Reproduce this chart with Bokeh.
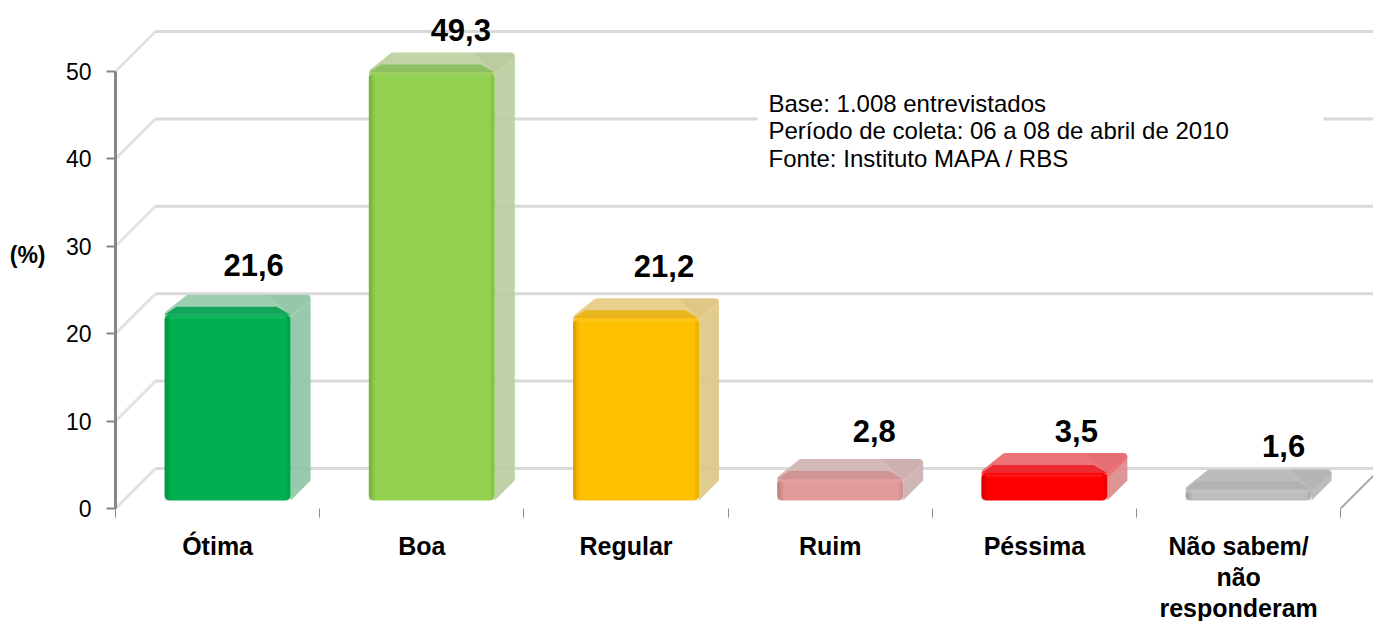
from bokeh.embed import file_html
from bokeh.resources import INLINE
from bokeh.plotting import figure
from bokeh.models import Range1d, FixedTicker, LinearAxis, ColumnDataSource
from bokeh.core.properties import value

categories = ["Ótima", "Boa", "Regular", "Ruim", "Péssima", "Não sabem/"]
category_line2 = {5.5: "não"}
category_line3 = {5.5: "responderam"}
values = [21.6, 49.3, 21.2, 2.8, 3.5, 1.6]
value_labels = ["21,6", "49,3", "21,2", "2,8", "3,5", "1,6"]
colors = ["#00b050", "#92d050", "#ffc000", "#e09a9a", "#ff0000", "#bdbdbd"]
side_colors = ["#8cc3a4", "#b9cd9f", "#dcc684", "#c9aeae", "#dc8a8a", "#b5b5b5"]
top_colors = ["#9bcfb0", "#c2d4a6", "#e8d08c", "#d5b8b8", "#ec7478", "#bcbcbc"]
band_colors = ["#12a65a", "#8dc060", "#e8b61c", "#cf9595", "#ea2a30", "#b2b2b2"]
y_ticks = [0, 10, 20, 30, 40, 50]
notes = ["Base: 1.008 entrevistados", "Período de coleta: 06 a 08 de abril de 2010", "Fonte: Instituto MAPA / RBS"]

PX_X, PX_Y = 204.2, 8.74
FRAME_W, FRAME_H = 1258, 508
xr = FRAME_W / PX_X
yr = FRAME_H / PX_Y
def px(v): return v / PX_X
def py(v): return v / PX_Y

p = figure(width=1373, height=621, output_backend="svg", toolbar_location=None,
           x_range=Range1d(0, xr), y_range=Range1d(0, yr),
           frame_width=FRAME_W, frame_height=FRAME_H,
           min_border_left=115, min_border_right=0, min_border_top=0, min_border_bottom=113,
           x_axis_location=None, y_axis_location=None, background_fill_color="white",
           border_fill_color="white", outline_line_color=None)
p.grid.visible = False

# left value axis
ya = LinearAxis(ticker=FixedTicker(ticks=y_ticks), bounds=(0, 50))
ya.axis_line_color = "#868686"; ya.axis_line_width = 3
ya.major_tick_line_color = "#868686"; ya.major_tick_line_width = 2
ya.major_tick_out = 9; ya.major_tick_in = 0; ya.minor_tick_line_color = None
ya.major_label_text_font = "Liberation Sans"; ya.major_label_text_font_size = "23px"
ya.major_label_text_color = "black"; ya.major_label_standoff = 15
p.add_layout(ya, "left")

# unit caption on an otherwise empty axis, centred on the frame
yb = LinearAxis(ticker=FixedTicker(ticks=[]), axis_label="(%)", axis_label_orientation="horizontal")
yb.axis_line_color = None; yb.major_tick_line_color = None; yb.minor_tick_line_color = None
yb.axis_label_text_font = "Liberation Sans"; yb.axis_label_text_font_style = "bold"
yb.axis_label_text_font_size = "23px"; yb.axis_label_text_color = "black"
yb.axis_label_standoff = 17
p.add_layout(yb, "left")

# category boundaries
xa = LinearAxis(ticker=FixedTicker(ticks=list(range(len(categories) + 1))))
xa.axis_line_color = None; xa.major_tick_line_color = "#8c8c8c"; xa.major_tick_line_width = 1
xa.major_tick_out = 9; xa.major_tick_in = 0; xa.minor_tick_line_color = None
xa.major_label_text_font_size = "0px"; xa.major_label_standoff = 0
xa.major_label_overrides = {i: "" for i in range(len(categories) + 1)}
p.add_layout(xa, "below")

# category names: one stacked axis per text line
centers = [i + 0.5 for i in range(len(categories))]
for overrides, standoff in ((dict(zip(centers, categories)), 14), (category_line2, 0), (category_line3, 0)):
    xb = LinearAxis(ticker=FixedTicker(ticks=list(overrides)))
    xb.axis_line_color = None; xb.major_tick_line_color = None; xb.minor_tick_line_color = None
    xb.major_tick_out = 0; xb.major_tick_in = 0
    xb.major_label_overrides = overrides
    xb.major_label_text_font = "Liberation Sans"; xb.major_label_text_font_style = "bold"
    xb.major_label_text_font_size = "25px"; xb.major_label_text_color = "black"
    xb.major_label_standoff = standoff
    p.add_layout(xb, "below")

# walls
wall_dx, wall_dy = px(40), py(40)
x_end = xr
backs = [t + wall_dy for t in y_ticks]
p.segment(x0=[0] * 6, y0=y_ticks, x1=[wall_dx] * 6, y1=backs, line_color="#e2e2e2", line_width=3)
p.segment(x0=[wall_dx] * 6, y0=backs, x1=[x_end] * 6, y1=backs, line_color="#d9d9d9", line_width=3)
p.segment(x0=[6], y0=[0], x1=[6 + wall_dx], y1=[wall_dy], line_color="#a8a8a8", line_width=2)

# note box hides the grid line beneath it
p.quad(left=[px(642)], right=[px(1208)], top=[py(508 - 90)], bottom=[py(508 - 170)], fill_color="white", line_color=None)

# bars
bar_w = px(126)
shift = px(10)
base = py(8)
inset = py(3)
dx, dy = px(20), py(20)
ix, iy = px(4), py(4)
for i, v in enumerate(values):
    l = i + 0.5 + shift - bar_w / 2
    r = l + bar_w
    t = base + v - inset
    # side
    p.patch([r, r + dx, r + dx, r], [base, base + dy, t + dy - iy, t], fill_color=side_colors[i], line_color=None, fill_alpha=0.9)
    # top (rounded back corners through a round stroke)
    p.patch([l + ix, l + dx + ix, r + dx - ix, r], [t, t + dy - iy, t + dy - iy, t],
            fill_color=top_colors[i], line_color=top_colors[i], line_width=8, line_join="round")
    p.patch([r, r + dx, r + dx - px(4), r - px(22)], [t, t + dy - iy, t + dy, t + dy], fill_color="black", fill_alpha=0.035, line_color=None)
    band = py(8)
    p.patch([l, l + px(12), r - px(14), r], [t, t + band, t + band, t], fill_color=band_colors[i], line_color=None)
    # front with soft edges
    p.quad(left=[l], right=[r], top=[t], bottom=[base], fill_color=colors[i], line_color=None, border_radius=5)
    edge = min(py(3), (t - base) / 4)
    p.quad(left=[l], right=[l + px(3)], top=[t - edge], bottom=[base], fill_color="black", fill_alpha=0.14, line_color=None)
    p.quad(left=[l + px(3)], right=[l + px(6)], top=[t - edge], bottom=[base], fill_color="black", fill_alpha=0.06, line_color=None)
    p.quad(left=[r - px(4)], right=[r], top=[t - edge], bottom=[base], fill_color="black", fill_alpha=0.06, line_color=None)
    p.quad(left=[l + px(5)], right=[r - px(5)], top=[t - py(1)], bottom=[t - py(4)], fill_color="white", fill_alpha=0.08, line_color=None)

# value labels
src = ColumnDataSource(dict(
    x=[i + 0.5 + shift for i in range(6)],
    y=[base + v - inset for v in values],
    text=value_labels,
    xo=[26, 29, 28, 34, 32, 35],
    yo=[-50, -43, -52, -48, -42, -44],
))
p.text(x="x", y="y", text="text", x_offset="xo", y_offset="yo", source=src, text_font=value("Liberation Sans"),
       text_font_style="bold", text_font_size="31px", text_color="black", text_align="center", text_baseline="middle")

# notes
note_y = [405, 378, 350]
p.text(x=[px(653)] * 3, y=[py(n) for n in note_y], text=notes, text_font=value("Liberation Sans"),
       text_font_size="24px", text_color="black", text_align="left", text_baseline="middle")

open("out.html", "w").write(file_html(p, INLINE))
